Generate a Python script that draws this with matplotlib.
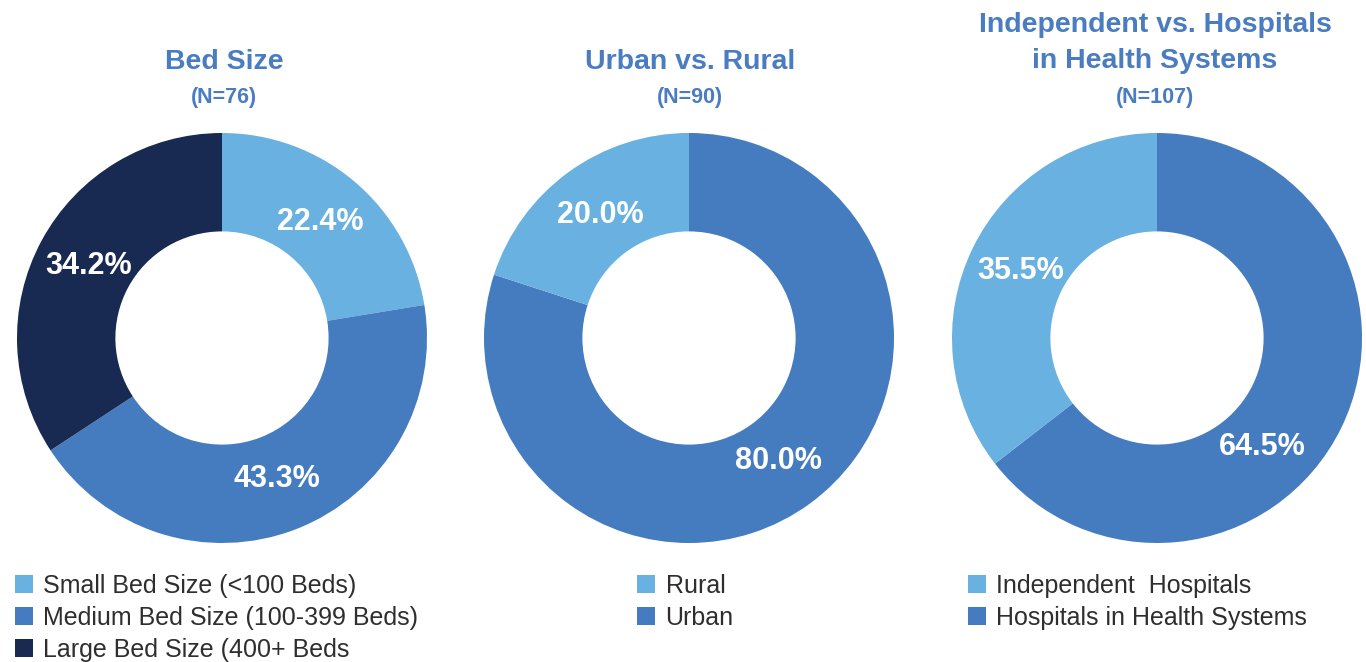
import matplotlib.pyplot as plt
from matplotlib.patches import Patch
import numpy as np

# data
bed_labels = ["Small Bed Size (<100 Beds)", "Medium Bed Size (100-399 Beds)", "Large Bed Size (400+ Beds"]
bed_values = [22.4, 43.3, 34.2]
area_labels = ["Rural", "Urban"]
area_values = [20.0, 80.0]
sys_labels = ["Independent  Hospitals", "Hospitals in Health Systems"]
sys_values = [35.5, 64.5]

light = "#69b1e1"
mid = "#447cbf"
dark = "#182a52"
title_col = "#4a7cc1"
text_col = "#2e2e2e"

plt.rcParams['font.family'] = ['Liberation Sans', 'DejaVu Sans']

W, H = 1366, 662
fig = plt.figure(figsize=(W / 100, H / 100), dpi=100)

R = 205


def donut(cx, cy, values, colors, startangle):
    ax = fig.add_axes([(cx - R) / W, (H - cy - R) / H, 2 * R / W, 2 * R / H])
    wedges, texts, autotexts = ax.pie(values, colors=colors, startangle=startangle, counterclock=False,
                                      radius=1, autopct='%.1f%%', pctdistance=0.74,
                                      wedgeprops=dict(width=0.48, linewidth=0),
                                      textprops=dict(color='white', fontsize=22, fontweight='bold'))
    ax.set_xlim(-1, 1)
    ax.set_ylim(-1, 1)
    ax.set_aspect('equal')
    ax.axis('off')
    return ax, autotexts


# chart 1: small, medium, large clockwise from top
ax1, t1 = donut(222, 338, bed_values, [light, mid, dark], 90)
# chart 2: urban clockwise from top, rural last
ax2, t2 = donut(689, 338, area_values[::-1], [mid, light], 90)
# chart 3: systems clockwise from top, independent last
ax3, t3 = donut(1157, 338, sys_values[::-1], [mid, light], 90)

# nudge the 64.5% label a bit lower like the original
x, y = t3[0].get_position()
a = np.deg2rad(-20)
t3[0].set_position((x * np.cos(a) - y * np.sin(a), x * np.sin(a) + y * np.cos(a)))

# titles
def ftext(px, py, s, size, **kw):
    fig.text(px / W, 1 - py / H, s, ha='center', va='center', color=title_col,
             fontsize=size, fontweight='bold', **kw)

ftext(224, 62, "Bed Size", 20.5)
ftext(224, 97, "(N=76)", 15.5)
ftext(690, 62, "Urban vs. Rural", 20.5)
ftext(690, 97, "(N=90)", 15.5)
ftext(1155, 25, "Independent vs. Hospitals", 20.5)
ftext(1155, 61, "in Health Systems", 20.5)
ftext(1155, 97, "(N=107)", 15.5)


# legends
def legend(px, py, labels, colors):
    handles = [Patch(facecolor=c, edgecolor='none') for c in colors]
    fig.legend(handles, labels, loc='upper left', bbox_to_anchor=(px / W, 1 - py / H),
               frameon=False, fontsize=18, handlelength=0.72, handleheight=0.72,
               handletextpad=0.42, labelspacing=0.32, borderaxespad=0, borderpad=0,
               labelcolor=text_col)

legend(15, 574, bed_labels, [light, mid, dark])
legend(637, 574, area_labels, [light, mid])
legend(968, 574, sys_labels, [light, mid])

fig.savefig("out.png", dpi=100)
